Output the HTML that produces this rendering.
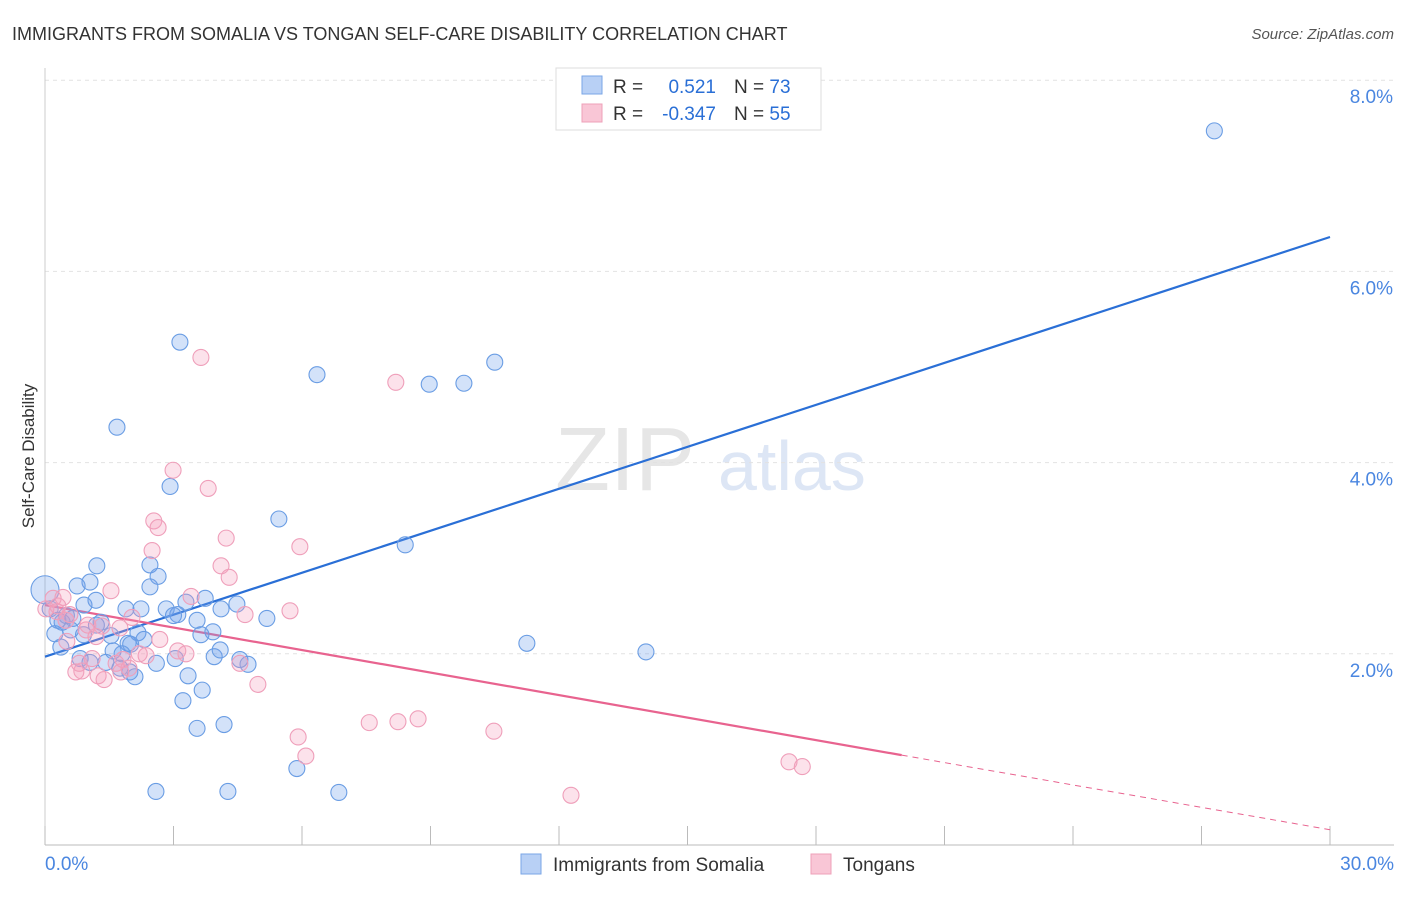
<!DOCTYPE html>
<html><head><meta charset="utf-8"><style>
body{margin:0;background:#fff;font-family:"Liberation Sans",sans-serif;}
svg text{font-family:"Liberation Sans",sans-serif;}
</style></head><body>
<svg id="chart" width="1406" height="892" xmlns="http://www.w3.org/2000/svg">
<text x="12" y="40" font-size="18" fill="#333">IMMIGRANTS FROM SOMALIA VS TONGAN SELF-CARE DISABILITY CORRELATION CHART</text>
<text x="1394" y="39" font-size="15" fill="#555" font-style="italic" text-anchor="end">Source: ZipAtlas.com</text>
<text x="34" y="456" font-size="17" fill="#333" text-anchor="middle" transform="rotate(-90 34 456)">Self-Care Disability</text>
<text x="555" y="490" font-size="90" fill="#e6e6e6" font-family="Liberation Serif">ZIP</text>
<text x="718" y="490" font-size="70" fill="#dde6f5">atlas</text>
<g id="grid"></g><g id="axes"></g><g id="lines"></g><g id="pts"></g>
<g>
<rect x="556" y="68" width="265" height="62" fill="#fff" stroke="#ddd"/>
<rect x="582" y="76" width="20" height="18" fill="#b8d0f5" stroke="#7aa6e6"/>
<rect x="582" y="104" width="20" height="18" fill="#f9c6d6" stroke="#eea0b8"/>
<text x="613" y="93" font-size="19" fill="#333">R =</text>
<text x="716" y="93" font-size="19" fill="#2a6fd6" text-anchor="end">0.521</text>
<text x="734" y="93" font-size="19" fill="#333">N = <tspan fill="#2a6fd6">73</tspan></text>
<text x="613" y="120" font-size="19" fill="#333">R =</text>
<text x="716" y="120" font-size="19" fill="#2a6fd6" text-anchor="end">-0.347</text>
<text x="734" y="120" font-size="19" fill="#333">N = <tspan fill="#2a6fd6">55</tspan></text>
</g>
<g>
<rect x="521" y="854" width="20" height="20" fill="#b8d0f5" stroke="#7aa6e6"/>
<text x="553" y="871" font-size="19" fill="#333">Immigrants from Somalia</text>
<rect x="811" y="854" width="20" height="20" fill="#f9c6d6" stroke="#eea0b8"/>
<text x="843" y="871" font-size="19" fill="#333">Tongans</text>
</g>
</svg>
<script>
const xTicks=[0,3,6,9,12,15,18,21,24,27,30];
const yTicks=[2,4,6,8];
const yTickLabels=["2.0%","4.0%","6.0%","8.0%"];
const xTickLabels=["0.0%","30.0%"];
const somaliaX=[0,27.3,3.15,6.35,10.5,8.97,9.78,1.68,2.92,5.46,8.41,11.25,14.03,1.21,1.05,0.75,2.45,2.64,2.45,3.74,3.29,4.48,5.18,4.11,3.55,2.83,2.24,1.89,3.10,3.92,3.64,2.17,1.31,0.65,0.40,0.12,0.23,0.37,0.91,1.19,1.54,1.94,2.31,3.04,3.95,4.09,4.55,4.74,1.59,1.42,1.75,1.98,2.10,3.34,3.67,3.22,3.55,4.18,5.88,2.59,4.27,6.86,0.82,1.05,0.5,1.2,2.0,3.0,0.3,0.6,1.8,2.6,0.9];
const somaliaY=[2.67,7.47,5.26,4.92,5.05,4.82,4.83,4.37,3.75,3.41,3.14,2.11,2.02,2.92,2.75,2.71,2.93,2.81,2.70,2.58,2.54,2.52,2.37,2.47,2.35,2.47,2.47,2.47,2.41,2.23,2.20,2.22,2.33,2.37,2.33,2.47,2.21,2.07,2.51,2.56,2.19,2.11,2.15,1.95,1.97,2.04,1.94,1.89,2.03,1.91,1.85,1.81,1.76,1.77,1.62,1.51,1.22,1.26,0.80,0.56,0.56,0.55,1.95,1.91,2.4,2.3,2.1,2.4,2.35,2.25,2.0,1.9,2.2];
const tonganX=[3.64,8.19,2.99,3.81,2.54,2.64,4.23,2.50,5.95,4.11,4.30,1.54,3.41,0.19,0.42,0.02,0.58,4.67,5.72,2.03,1.33,1.75,0.28,0.49,0.96,1.19,2.68,3.10,3.29,2.36,1.82,1.66,1.10,0.72,0.86,1.24,1.38,1.77,1.96,4.55,4.97,7.57,8.24,8.71,10.48,5.91,6.09,17.37,17.68,12.28,0.51,0.3,1.0,2.2,0.8];
const tonganY=[5.10,4.84,3.92,3.73,3.39,3.32,3.21,3.08,3.12,2.92,2.80,2.66,2.60,2.58,2.59,2.47,2.41,2.41,2.45,2.38,2.29,2.27,2.44,2.35,2.25,2.18,2.15,2.03,2.00,1.98,1.94,1.90,1.95,1.81,1.82,1.77,1.73,1.81,1.85,1.90,1.68,1.28,1.29,1.32,1.19,1.13,0.93,0.87,0.82,0.52,2.13,2.5,2.3,2.0,1.9];
const blueFit=[1.97,6.36];
const pinkFit=[2.51,0.94,0.16];
const X=v=>45+v*(1285/30), Y=v=>845-v*95.6;
const NS="http://www.w3.org/2000/svg";
function mk(tag,attrs,parent){const e=document.createElementNS(NS,tag);for(const k in attrs)e.setAttribute(k,attrs[k]);document.getElementById(parent).appendChild(e);return e;}
yTicks.forEach((t,i)=>{
 const g=mk('line',{x1:45,x2:1394,y1:Y(t),y2:Y(t),stroke:'#e2e2e2','stroke-dasharray':'4 4'},'grid');
 
 
 const l=mk('text',{x:1393,y:Y(t)+23,'font-size':19,fill:'#4a86e0','text-anchor':'end'},'axes');l.textContent=yTickLabels[i];
 
 
});
const ax=mk('line',{x1:45,x2:1394,y1:845,y2:845,stroke:'#bbb'},'axes');


const ay=mk('line',{x1:45,x2:45,y1:68,y2:845,stroke:'#ccc'},'axes');


xTicks.forEach(t=>{const l=mk('line',{x1:X(t),x2:X(t),y1:826,y2:845,stroke:'#bbb'},'axes');
 
 });
[[0,'start',45],[30,'end',1394]].forEach((d,i)=>{const l=mk('text',{x:d[2],y:870,'font-size':19,fill:'#4a86e0','text-anchor':d[1]},'axes');l.textContent=xTickLabels[i];
 
 });
somaliaX.forEach((x,i)=>{const c=mk('circle',{cx:X(x),cy:Y(somaliaY[i]),r:i==0?14:8,fill:'rgba(110,160,235,0.3)',stroke:'#6a9de4','stroke-width':1.1},'pts');
 
 });
tonganX.forEach((x,i)=>{const c=mk('circle',{cx:X(x),cy:Y(tonganY[i]),r:8,fill:'rgba(245,160,190,0.3)',stroke:'#ef9fba','stroke-width':1.1},'pts');
 
 });
const bl=mk('line',{x1:X(0),y1:Y(blueFit[0]),x2:X(30),y2:Y(blueFit[1]),stroke:'#2a6fd6','stroke-width':2.2},'lines');


const pl=mk('line',{x1:X(0),y1:Y(pinkFit[0]),x2:X(20),y2:Y(pinkFit[1]),stroke:'#e8638f','stroke-width':2.2},'lines');


const pd=mk('line',{x1:X(20),y1:Y(pinkFit[1]),x2:X(30),y2:Y(pinkFit[2]),stroke:'#e8638f','stroke-width':1,'stroke-dasharray':'6 5'},'lines');


</script>
</body></html>
